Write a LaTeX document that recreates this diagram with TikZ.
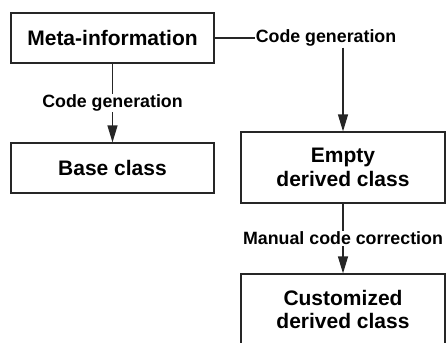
\documentclass[tikz,border=0pt]{standalone}
\usepackage{fontspec}
\setmainfont{Liberation Sans}
\usetikzlibrary{arrows.meta}
\begin{document}
\begin{tikzpicture}[x=1pt,y=-1pt,
  box/.style={draw=black!85,line width=1.2pt,minimum width=203pt,inner sep=0pt,align=center,
    font=\fontsize{21}{23.5}\selectfont\bfseries},
  lab/.style={font=\fontsize{17.8}{20}\selectfont\bfseries,inner sep=1pt},
  conn/.style={draw=black!85,line width=1.2pt},
  arr/.style={conn,-{Triangle[length=17pt,width=10pt]}}]
\useasboundingbox (0,0) rectangle (446,342);
\clip (0,0) rectangle (446,342);
\node[box,minimum height=50pt] (meta) at (112.5,38) {Meta-information};
\node[box,minimum height=50pt] (base) at (112.5,168) {Base class};
\node[box,minimum width=204pt,minimum height=71pt] (empty) at (343,167.5) {Empty\\derived class};
\node[box,minimum width=204pt,minimum height=71pt] (custom) at (343,309.5) {Customized\\derived class};
\node[lab] (lab2) at (326,38) {Code generation};
\draw[arr] (meta) -- node[lab,fill=white,inner sep=1pt] (lab1) {Code generation} (base);
\draw[conn] (meta.east) -- (lab2.west);
\draw[arr] (lab2.south -| empty.north) -- (empty.north);
\draw[arr] (empty) -- node[lab,fill=white] (lab3) {Manual code correction} (custom);
\end{tikzpicture}
\end{document}
